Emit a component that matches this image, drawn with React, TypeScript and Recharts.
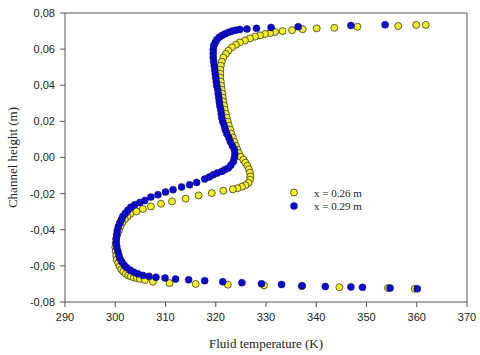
import * as React from 'react';
import {
    ScatterChart,
    Scatter,
    XAxis,
    YAxis,
    ReferenceLine,
    Legend,
    Label
} from 'recharts';

// temperature ticks (K) and channel height ticks (m)
const tempTicks = [290, 300, 310, 320, 330, 340, 350, 360, 370];
const heightTicks = [-0.08, -0.06, -0.04, -0.02, 0, 0.02, 0.04, 0.06, 0.08];

const seriesNames = ['x = 0.26 m', 'x = 0.29 m'];

// x = 0.26 m, from top wall round to bottom wall
const tempA = [
    361.8, 359.9, 356.3, 348.2, 343.6, 340.1, 337.3, 335.2, 333.3, 331.8,
    330.8, 329.8, 328.8, 327.8, 326.8, 325.8, 324.8, 324.0, 323.2, 322.5,
    322.0, 321.5, 321.2, 321.0, 320.9, 320.9, 320.9, 321.0, 321.1, 321.2,
    321.3, 321.4, 321.5, 321.7, 321.8, 322.0, 322.2, 322.4, 322.6, 322.9,
    323.1, 323.4, 323.7, 324.0, 324.3, 324.6, 325.0, 325.5, 325.9, 326.3,
    326.6, 326.8, 326.9, 326.8, 326.5, 325.9, 325.2, 324.3, 323.4, 321.5,
    319.2, 316.6, 314.0, 311.3, 309.1, 307.1, 305.5, 304.2, 303.0, 302.4,
    301.9, 301.4, 301.0, 300.7, 300.4, 300.2, 300.1, 300.0, 300.1, 300.2,
    300.3, 300.6, 300.9, 301.2, 301.6, 302.1, 302.6, 303.1, 303.7, 304.3,
    304.9, 305.9, 307.5, 310.8, 316.0, 322.4, 329.6, 337.1, 344.6, 354.3,
    359.6
];
const heightA = [
    0.0734, 0.0734, 0.0728, 0.0724, 0.0718, 0.0715, 0.071, 0.0705, 0.07, 0.0695,
    0.0689, 0.0684, 0.0676, 0.0669, 0.0659, 0.0648, 0.0637, 0.0624, 0.061, 0.0591,
    0.0573, 0.0553, 0.053, 0.0508, 0.0486, 0.0464, 0.0442, 0.042, 0.0397, 0.0375,
    0.0353, 0.0331, 0.0309, 0.0287, 0.0265, 0.0242, 0.022, 0.0198, 0.0176, 0.0154,
    0.0132, 0.011, 0.0087, 0.0065, 0.0043, 0.0024, 0.0004, -0.0012, -0.0029, -0.0046,
    -0.0065, -0.0084, -0.0105, -0.0123, -0.0141, -0.0154, -0.0162, -0.017, -0.0176, -0.0184,
    -0.0197, -0.021, -0.0228, -0.0243, -0.0256, -0.0271, -0.0285, -0.0299, -0.0313, -0.0328,
    -0.0342, -0.0361, -0.0382, -0.0405, -0.0428, -0.045, -0.0474, -0.0497, -0.052, -0.0544,
    -0.0566, -0.0585, -0.0603, -0.0619, -0.0632, -0.0644, -0.0652, -0.0658, -0.0664, -0.0668,
    -0.0672, -0.0678, -0.0688, -0.0695, -0.07, -0.0704, -0.0708, -0.0713, -0.0718, -0.0723,
    -0.0727
];

// x = 0.29 m, from bottom wall round to top wall
const tempB = [
    360.1, 354.7, 349.2, 346.9, 341.8, 337.2, 333.1, 329.1, 325.2, 321.4,
    317.8, 314.6, 312.0, 309.9, 308.1, 306.7, 305.5, 304.5, 303.7, 303.0,
    302.3, 301.8, 301.3, 300.9, 300.7, 300.5, 300.3, 300.2, 300.2, 300.3,
    300.4, 300.6, 300.9, 301.2, 301.5, 302.0, 302.5, 303.1, 303.9, 304.9,
    305.9, 307.1, 308.5, 310.0, 311.5, 313.2, 314.8, 316.2, 317.8, 318.7,
    319.5, 320.3, 321.2, 321.8, 322.5, 323.0, 323.5, 323.7, 323.8, 323.7,
    323.3, 322.9, 322.6, 322.2, 321.9, 321.7, 321.4, 321.2, 321.1, 321.0,
    320.8, 320.7, 320.6, 320.5, 320.4, 320.2, 320.1, 320.0, 319.9, 319.8,
    319.7, 319.6, 319.5, 319.5, 319.5, 319.6, 319.9, 320.2, 320.7, 321.3,
    321.9, 322.6, 323.3, 324.0, 324.8, 326.2, 328.1, 331.0, 336.4, 346.9,
    353.7
];
const heightB = [
    -0.0727, -0.0723, -0.0719, -0.0717, -0.0714, -0.071, -0.0703, -0.0699, -0.0693, -0.0688,
    -0.0682, -0.0677, -0.0673, -0.0667, -0.0663, -0.0658, -0.0653, -0.0644, -0.0635, -0.0624,
    -0.061, -0.0596, -0.0577, -0.0558, -0.0538, -0.0516, -0.0494, -0.0472, -0.045, -0.0428,
    -0.0405, -0.0383, -0.0363, -0.0345, -0.0326, -0.0309, -0.0292, -0.0275, -0.0261, -0.0249,
    -0.0238, -0.0219, -0.0206, -0.0191, -0.0178, -0.0163, -0.0151, -0.0138, -0.0119, -0.0108,
    -0.0095, -0.0086, -0.0077, -0.0068, -0.0058, -0.0043, -0.0022, -0.0001, 0.0021, 0.0043,
    0.0065, 0.0087, 0.011, 0.0132, 0.0154, 0.0176, 0.0198, 0.022, 0.0242, 0.0265,
    0.0287, 0.0309, 0.0331, 0.0353, 0.0375, 0.0397, 0.042, 0.0442, 0.0464, 0.0486,
    0.0508, 0.053, 0.0553, 0.0575, 0.0597, 0.0619, 0.0636, 0.0652, 0.0666, 0.0677,
    0.0685, 0.0694, 0.07, 0.0705, 0.0709, 0.0712, 0.0715, 0.072, 0.0724, 0.0731,
    0.0735
];

const toPoints = (temps: number[], heights: number[]) =>
    temps.map((t, i) => ({ temp: t, height: heights[i] }));

const dataA = toPoints(tempA, heightA);
const dataB = toPoints(tempB, heightB);

const YELLOW = '#f4ef2c';
const BLUE = '#0c0cc8';

const yellowDot = (p: any) => (
    <circle cx={p.cx} cy={p.cy} r={3.5} fill={YELLOW} stroke="#3c3a14" strokeWidth={0.8} />
);
const blueDot = (p: any) => (
    <circle cx={p.cx} cy={p.cy} r={3.5} fill={BLUE} stroke="#050580" strokeWidth={0.5} />
);

const tickStyle = { fontFamily: '"Liberation Sans", Arial, sans-serif', fontSize: 11, fill: '#222' };
const titleStyle = { fontFamily: '"Liberation Serif", "Times New Roman", serif', fontSize: 13, fill: '#222' };

const fmtHeight = (v: number) => v.toFixed(2).replace('.', ',');

const renderLegend = () => (
    <svg width={90} height={30}>
        {seriesNames.map((name, i) => (
            <g key={name}>
                <circle
                    cx={6}
                    cy={7.5 + i * 13.5}
                    r={3.5}
                    fill={i === 0 ? YELLOW : BLUE}
                    stroke={i === 0 ? '#3c3a14' : '#050580'}
                    strokeWidth={i === 0 ? 0.8 : 0.5}
                />
                <text
                    x={26}
                    y={11.5 + i * 13.5}
                    fontFamily='"Liberation Serif", "Times New Roman", serif'
                    fontSize={11}
                    fill="#222"
                >
                    {name}
                </text>
            </g>
        ))}
    </svg>
);

const App = () => {
    return (
        <div style={{ position: 'absolute', left: 0, top: 0, background: '#fff' }}>
            <ScatterChart
                width={480}
                height={355}
                margin={{ top: 13, right: 13, bottom: 0, left: 0 }}
            >
                <XAxis
                    type="number"
                    dataKey="temp"
                    domain={[290, 370]}
                    ticks={tempTicks}
                    allowDataOverflow
                    height={53}
                    stroke="#555"
                    tickSize={5}
                    tickMargin={6}
                    tick={tickStyle}
                    tickLine={{ stroke: '#555' }}
                >
                    <Label
                        value="Fluid temperature (K)"
                        position="insideBottom"
                        offset={7}
                        style={titleStyle}
                    />
                </XAxis>
                <YAxis
                    type="number"
                    dataKey="height"
                    domain={[-0.08, 0.08]}
                    ticks={heightTicks}
                    allowDataOverflow
                    width={65}
                    stroke="#555"
                    tickSize={5}
                    tickMargin={5}
                    tick={tickStyle}
                    tickFormatter={fmtHeight}
                >
                    <Label
                        value="Channel height (m)"
                        angle={-90}
                        position="insideLeft"
                        offset={12}
                        style={{ ...titleStyle, textAnchor: 'middle' }}
                    />
                </YAxis>
                <ReferenceLine y={0.08} stroke="#555" />
                <ReferenceLine x={370} stroke="#555" />
                <Legend
                    layout="horizontal"
                    verticalAlign="middle"
                    align="center"
                    content={renderLegend}
                    wrapperStyle={{ left: 288, top: 185, width: 90, height: 30 }}
                />
                <Scatter
                    name={seriesNames[0]}
                    data={dataA}
                    shape={yellowDot}
                    isAnimationActive={false}
                />
                <Scatter
                    name={seriesNames[1]}
                    data={dataB}
                    shape={blueDot}
                    isAnimationActive={false}
                />
            </ScatterChart>
        </div>
    );
};

export default App;
